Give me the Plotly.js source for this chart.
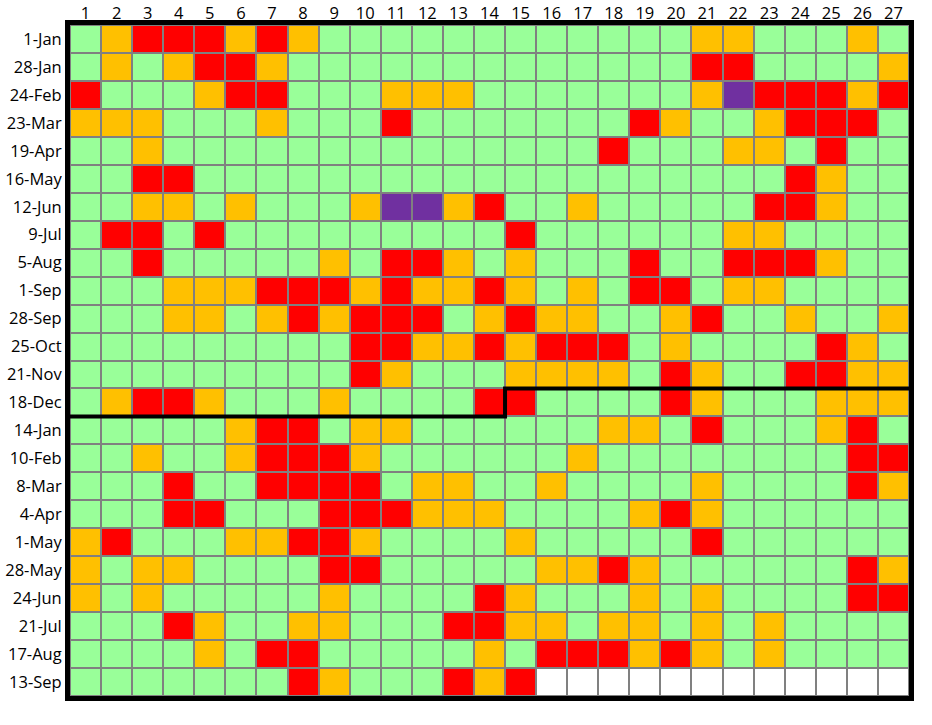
<!DOCTYPE html>
<html>
<head>
<meta charset="utf-8">
<script src="https://cdn.plot.ly/plotly-3.0.1.min.js"></script>
<style>html,body{margin:0;padding:0;background:#fff;}#chart{width:932px;height:725px;}</style>
</head>
<body>
<div id="chart"></div>
<script>
// Column labels (day within 27-day period)
const days = [1,2,3,4,5,6,7,8,9,10,11,12,13,14,15,16,17,18,19,20,21,22,23,24,25,26,27];
// Row labels (start date of each period)
const periods = ['1-Jan','28-Jan','24-Feb','23-Mar','19-Apr','16-May','12-Jun','9-Jul','5-Aug','1-Sep','28-Sep','25-Oct','21-Nov','18-Dec',
                 '14-Jan','10-Feb','8-Mar','4-Apr','1-May','28-May','24-Jun','21-Jul','17-Aug','13-Sep'];
// Status per cell: G = green, O = amber, R = red, P = purple, . = no data
const statusRows = [
  'GORRRORO'+'GGGGGGGGGGGG'+'OO'+'GGG'+'O'+'G',
  'GOGORROG'+'GGGGGGGGGGGG'+'RR'+'GGGG'+'O',
  'RGGGORRGGGOOO'+'GGGGGGG'+'OPRRROR',
  'OOOGGGOGGGRGG'+'GGGGG'+'ROGGORRRG',
  'GGO'+'GGGGGGGGGGGGGG'+'RGGGOOGRGG',
  'GGRR'+'GGGGGGGGGGGGGGGGGGG'+'ROGG',
  'GGOOGOGGGOPPORGGO'+'GGGGG'+'RROGG',
  'GRRGR'+'GGGGGGGGG'+'R'+'GGGGGG'+'OO'+'GGGG',
  'GGRGGGGGOG'+'RROGOGGGRG'+'GRRROGG',
  'GGGOOORRRO'+'ROOROGOGRR'+'GOOGGGG',
  'GGGOOGOROR'+'RRGOROOGGO'+'RGGOGGO',
  'GGGGGGGGGR'+'ROORORRRGO'+'GGGGROG',
  'GGGGGGGGGR'+'OGGGOOOOGR'+'OGGRROO',
  'GORROGGGOG'+'GGGRRGGGGR'+'OGGGOOO',
  'GGGGGORRGO'+'OGGGGGGOOG'+'RGGGORG',
  'GGOGGORRRO'+'GGGGGGOGGG'+'GGGGGRR',
  'GGGRGGRRRR'+'GOOGGOGGGG'+'OGGGGRO',
  'GGGRRGGGRR'+'ROOOGGGGOR'+'OGGGGGG',
  'ORGGGOORRO'+'GGGGOGGGGG'+'RGGGGGG',
  'OGOOGGGGRR'+'GGGGGOOROG'+'GGGGGRO',
  'OGOGGGGGOG'+'GGGROGGGOG'+'OGGGGRR',
  'GGGROGGOOG'+'GGRROOGOOG'+'OGOGGGG',
  'GGGGOGRRGG'+'GGGOGRRROR'+'OGOGGGG',
  'GGGGGGGROG'+'GGROR.....'+'.......'
];
// Year boundary: first cell of the new year
const yearBreakRow = '18-Dec';
const yearBreakDay = 15;

const statusCodes = {G:0, O:1, R:2, P:3, '.':4};
const statusColors = ['#99FF99','#FFC000','#FF0000','#7030A0','#FFFFFF'];

const z = statusRows.map(r => r.split('').map(c => statusCodes[c]));
const rowIdx = periods.map((_, i) => i);

const n = statusColors.length;
const colorscale = [];
statusColors.forEach((c, i) => {
  colorscale.push([i / n, c]);
  colorscale.push([(i + 1) / n, c]);
});

const trace = {
  type: 'heatmap',
  x: days,
  y: rowIdx,
  z: z,
  zmin: -0.5,
  zmax: n - 0.5,
  colorscale: colorscale,
  showscale: false,
  xgap: 2,
  ygap: 2,
  hoverinfo: 'skip'
};

// Step line marking the year boundary, derived from the break cell
const br = periods.indexOf(yearBreakRow);
const xL = days[0] - 0.5, xR = days[days.length - 1] + 0.5;
const xs = yearBreakDay - 0.5;
const stepPath = `M ${xL} ${br + 0.5} L ${xs} ${br + 0.5} L ${xs} ${br - 0.5} L ${xR} ${br - 0.5}`;

const fontFam = '"Open Sans", Lato, sans-serif';
const layout = {
  width: 932, height: 725,
  margin: {l: 70, r: 23, t: 25, b: 29, pad: 0},
  paper_bgcolor: '#FFFFFF',
  plot_bgcolor: '#808080',
  font: {family: fontFam, size: 16.5, color: '#000'},
  xaxis: {
    side: 'top',
    tickmode: 'array',
    tickvals: days,
    ticktext: days.map(String),
    range: [xL, xR],
    showgrid: false, zeroline: false,
    ticks: '', ticklen: 0,
    ticklabelstandoff: -6,
    showline: true, mirror: true, linewidth: 5, linecolor: '#000',
    tickfont: {family: fontFam, size: 16.5, color: '#000'},
    fixedrange: true
  },
  yaxis: {
    tickmode: 'array',
    tickvals: rowIdx,
    ticktext: periods,
    range: [periods.length - 0.5, -0.5],
    showgrid: false, zeroline: false,
    ticks: '', ticklen: 0,
    showline: true, mirror: true, linewidth: 5, linecolor: '#000',
    tickfont: {family: fontFam, size: 16.5, color: '#000'},
    fixedrange: true
  },
  shapes: [{
    type: 'path', xref: 'x', yref: 'y', path: stepPath,
    line: {color: '#000', width: 4}
  }],
  showlegend: false
};

Plotly.newPlot('chart', [trace], layout, {displayModeBar: false, staticPlot: true});
</script>
</body>
</html>
